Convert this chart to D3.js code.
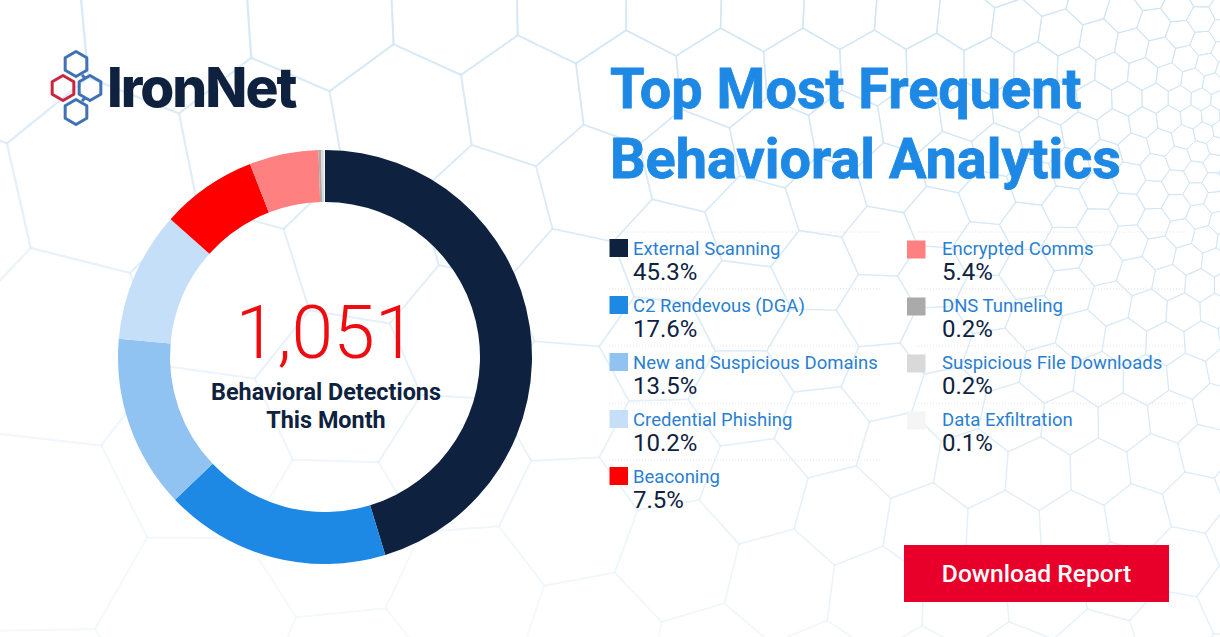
<!DOCTYPE html>
<html>
<head>
<meta charset="utf-8">
<script src="https://cdn.jsdelivr.net/npm/d3@7"></script>
<style>
  html, body { margin: 0; padding: 0; background: #fff; overflow: hidden; }
  text { font-family: Roboto, sans-serif; }
</style>
</head>
<body>
<svg id="grafico" width="1220" height="637"></svg>
<script>
// datos
const categorias = ["External Scanning", "C2 Rendevous (DGA)", "New and Suspicious Domains",
  "Credential Phishing", "Beaconing", "Encrypted Comms", "DNS Tunneling",
  "Suspicious File Downloads", "Data Exfiltration"];
const valores = [45.3, 17.6, 13.5, 10.2, 7.5, 5.4, 0.2, 0.2, 0.1];
const colores = ["#0e2240", "#1e88e5", "#90c2f2", "#c5dff8", "#fe0000", "#ff8080",
  "#aaaaaa", "#d9d9d9", "#f5f5f5"];

const svg = d3.select("#grafico");

// Fondo: malla de hexagonos, se achica hacia el borde derecho
const foco_x = 1340, foco_y = 130;
const lado = 0.081;
const giro = 0.35;
const fondo = svg.append("g").attr("fill", "none").attr("stroke", "#cfe4f5");
const linea = d3.line();

function warp(u, v) {
  const r = Math.exp(u);
  return [foco_x + r * Math.cos(v), foco_y + r * Math.sin(v)];
}

for (let i = -70; i < 70; i++) {
  for (let j = -70; j < 70; j++) {
    // centro de la celda en la red hexagonal, girada igual que los vertices
    const a0 = i * lado * 1.5;
    const b0 = (j + i / 2) * lado * Math.sqrt(3);
    const cu = 6.2 + a0 * Math.cos(giro) - b0 * Math.sin(giro);
    const cv = Math.PI + a0 * Math.sin(giro) + b0 * Math.cos(giro);
    if (Math.abs(cv - Math.PI) > 1.9 || cu < 4.4) continue;
    const centro = warp(cu, cv);
    if (centro[0] < -250 || centro[0] > 1400 || centro[1] < -150 || centro[1] > 800) continue;
    const puntos = d3.range(7).map(k => {
      const a = k * Math.PI / 3 + giro;
      return warp(cu + lado * Math.cos(a), cv + lado * Math.sin(a));
    });
    // se desvanece hacia abajo a la izquierda
    const op = Math.max(0.12, Math.min(0.85, 0.95 - centro[1] / 1000 - (1220 - centro[0]) / 2800));
    fondo.append("path")
      .attr("d", linea(puntos))
      .attr("stroke-opacity", op)
      .attr("stroke-width", 0.8 + Math.exp(cu) / 900);
  }
}

// Logo
const logo_hex = [[76, 64, "#3f72b5"], [63, 88, "#c9273f"], [90, 88, "#3f72b5"], [76, 112, "#3f72b5"]];
const logo = svg.append("g").attr("fill", "none").attr("stroke-width", 3);
logo_hex.forEach(h => {
  const puntos = d3.range(6).map(k => {
    const a = Math.PI / 6 + k * Math.PI / 3;
    return [h[0] + 12.5 * Math.cos(a), h[1] + 12.5 * Math.sin(a)];
  });
  logo.append("path").attr("d", linea(puntos) + "Z").attr("stroke", h[2]).attr("stroke-linejoin", "round");
});
// conectores cortos del logo
logo.append("path").attr("d", linea([[82, 75], [85, 78]])).attr("stroke", "#3f72b5");
logo.append("path").attr("d", linea([[85, 98], [82, 101]])).attr("stroke", "#3f72b5");
svg.append("text").attr("x", 107).attr("y", 107)
  .style("font-family", "Inter").style("font-weight", 800).style("font-size", "55px")
  .style("letter-spacing", "-2px")
  .attr("fill", "#0e2240").text("IronNet");

// Dona
const cx = 325, cy = 357;
const pie = d3.pie().sort(null);
const arco = d3.arc().innerRadius(155).outerRadius(207);
svg.append("g").attr("transform", `translate(${cx},${cy})`)
  .selectAll("path").data(pie(valores)).join("path")
  .attr("d", arco)
  .attr("fill", (d, i) => colores[i]);

svg.append("text").attr("x", cx + 1).attr("y", 358).attr("text-anchor", "middle")
  .style("font-weight", 300).style("font-size", "75px").attr("fill", "#ee0c10").text("1,051");
svg.append("text").attr("x", cx + 1).attr("y", 400).attr("text-anchor", "middle")
  .style("font-weight", 700).style("font-size", "23.4px").attr("fill", "#0e2240").text("Behavioral Detections");
svg.append("text").attr("x", cx + 1).attr("y", 428).attr("text-anchor", "middle")
  .style("font-weight", 700).style("font-size", "23.4px").attr("fill", "#0e2240").text("This Month");

// Titulo
const titulo = ["Top Most Frequent", "Behavioral Analytics"];
titulo.forEach((t, i) => {
  svg.append("text").attr("x", 610).attr("y", 108 + i * 70)
    .style("font-weight", 700).style("font-size", "55.8px")
    .attr("fill", "#1e88e5").attr("stroke", "#1e88e5").attr("stroke-width", 0.8).text(t);
});

// Leyenda: dos columnas, 5 filas en la primera
const por_columna = 5;
const fila = d3.scaleLinear().domain([0, 1]).range([232, 289]);
const columnas = [
  { cuadro: 609.5, texto: 633, sep0: 609, sep1: 880, baja: 7 },
  { cuadro: 907, texto: 942, sep0: 918, sep1: 1188, baja: 8.5 }
];

categorias.forEach((nombre, i) => {
  const col = columnas[i < por_columna ? 0 : 1];
  const y0 = fila(i < por_columna ? i : i - por_columna);
  const g = svg.append("g");
  g.append("line").attr("x1", col.sep0).attr("x2", col.sep1).attr("y1", y0).attr("y2", y0)
    .attr("stroke", "#e4e4e4").attr("stroke-width", 1).attr("stroke-dasharray", "1 2");
  g.append("rect").attr("x", col.cuadro).attr("y", y0 + col.baja).attr("width", 18.5).attr("height", 18)
    .attr("fill", colores[i]);
  g.append("text").attr("x", col.texto).attr("y", y0 + 22.5)
    .style("font-size", "18.5px").attr("fill", "#2a7fd0").text(nombre);
  g.append("text").attr("x", col.texto).attr("y", y0 + 48)
    .style("font-size", "24px").attr("fill", "#0e2240").text(valores[i].toFixed(1) + "%");
});

// Boton
svg.append("rect").attr("x", 904).attr("y", 545).attr("width", 265).attr("height", 57).attr("fill", "#e8002b");
svg.append("text").attr("x", 1036.5).attr("y", 582).attr("text-anchor", "middle")
  .style("font-weight", 500).style("font-size", "24.6px").attr("fill", "#fff").text("Download Report");
</script>
</body>
</html>
